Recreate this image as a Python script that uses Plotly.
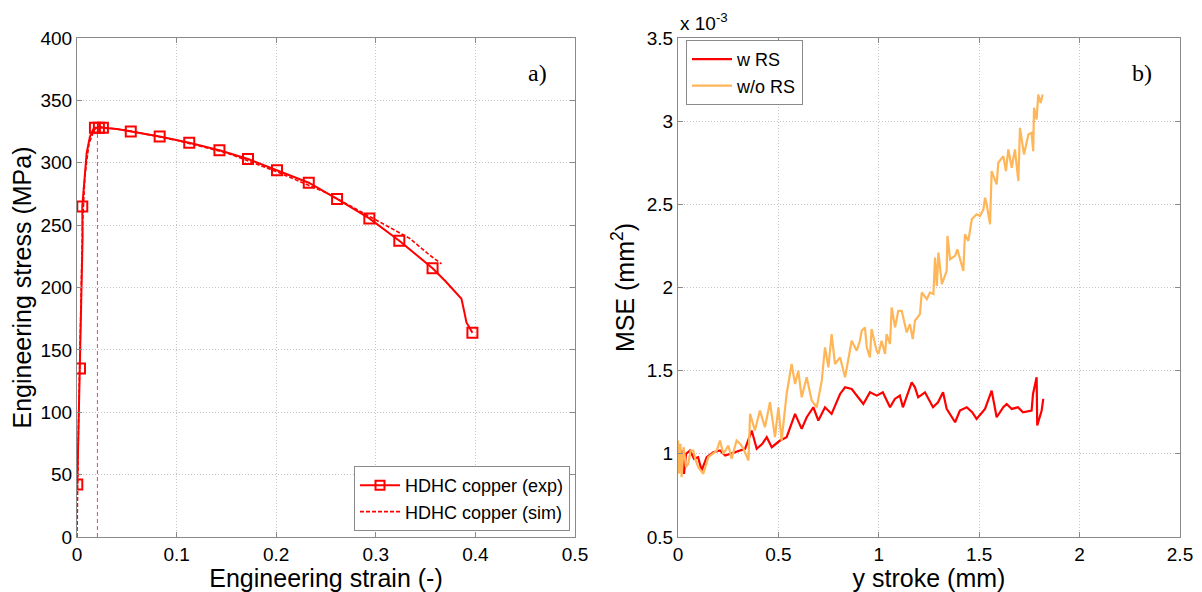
import plotly.graph_objects as go

# ---------------- data: left panel ----------------
exp_strain = [0.0003, 0.0008, 0.0013, 0.002, 0.003, 0.0037, 0.0042, 0.0047, 0.0056, 0.0053,
              0.0075, 0.0097, 0.013, 0.0164, 0.018, 0.022, 0.026, 0.04, 0.054, 0.083,
              0.1127, 0.143, 0.1717, 0.2008, 0.2327, 0.2611, 0.2935, 0.3236, 0.357, 0.37,
              0.378, 0.386, 0.389, 0.391, 0.394, 0.397]
exp_stress = [42, 60, 83, 110, 135, 163, 190, 217, 240, 265,
              289, 308, 321, 327, 328, 328, 328, 327, 325, 321,
              316, 310, 303, 294, 284, 271, 255.4, 237.5, 215.4, 205,
              198, 191, 180, 172, 168, 163.8]
mark_strain = [0.0003, 0.003, 0.0053, 0.018, 0.022, 0.026, 0.054, 0.083, 0.1127, 0.143,
               0.1717, 0.2008, 0.2327, 0.2611, 0.2935, 0.3236, 0.357, 0.397]
mark_stress = [42, 135, 265, 328, 328, 328, 325, 321, 316, 310,
               303, 294, 284, 271, 255.4, 237.5, 215.4, 163.8]
sim_strain = [0, 0.0005, 0.0015, 0.003, 0.004, 0.0055, 0.008, 0.012, 0.017, 0.021,
              0.05, 0.1, 0.15, 0.2, 0.25, 0.3, 0.334, 0.354, 0.366]
sim_stress = [0, 40, 90, 150, 200, 250, 290, 315, 326, 329,
              326, 318, 308, 293, 276, 254, 239.4, 226, 219]
vline_strain = [0.0205, 0.0205]
vline_stress = [0, 328]

# ---------------- data: right panel (MSE x 1e-3 mm^2) ----------------
wrs_x = [0.0, 0.01, 0.02, 0.03, 0.04, 0.06, 0.08, 0.1, 0.118, 0.143, 0.176, 0.209, 0.235,
         0.259, 0.292, 0.334, 0.367, 0.392, 0.42, 0.442, 0.467, 0.508, 0.541, 0.583, 0.616,
         0.641, 0.674, 0.699, 0.732, 0.765, 0.807, 0.832, 0.865, 0.898, 0.923, 0.956, 0.99,
         1.02, 1.056, 1.08, 1.105, 1.12, 1.164, 1.18, 1.196, 1.23, 1.27, 1.295, 1.32, 1.338,
         1.38, 1.404, 1.438, 1.465, 1.487, 1.529, 1.562, 1.587, 1.62, 1.637, 1.662, 1.693,
         1.718, 1.761, 1.768, 1.786, 1.789, 1.811, 1.819]
wrs_y = [1.0, 0.9, 1.02, 0.88, 1.0, 1.02, 0.97, 0.98, 0.9, 0.98, 1.01, 1.02, 0.99,
         1.0, 1.01, 1.03, 1.14, 1.03, 1.06, 1.10, 1.04, 1.08, 1.10, 1.24, 1.15,
         1.22, 1.28, 1.20, 1.28, 1.24, 1.36, 1.40, 1.39, 1.34, 1.30, 1.37, 1.35,
         1.37, 1.28, 1.33, 1.35, 1.28, 1.43, 1.40, 1.34, 1.37, 1.28, 1.31, 1.37, 1.27,
         1.19, 1.26, 1.28, 1.25, 1.21, 1.27, 1.38, 1.22, 1.28, 1.30, 1.27, 1.28,
         1.25, 1.26, 1.36, 1.46, 1.17, 1.26, 1.33]
wors_x = [0.0, 0.005, 0.012, 0.018, 0.028, 0.04, 0.051, 0.063, 0.076, 0.088, 0.101, 0.126,
          0.151, 0.175, 0.193, 0.209, 0.226, 0.251, 0.267, 0.292, 0.31, 0.326, 0.351, 0.359,
          0.383, 0.408, 0.433, 0.458, 0.483, 0.5, 0.516, 0.541, 0.566, 0.583, 0.599, 0.616,
          0.641, 0.666, 0.691, 0.716, 0.732, 0.749, 0.765, 0.782, 0.807, 0.832, 0.865, 0.89,
          0.906, 0.915, 0.931, 0.94, 0.956, 0.964, 0.989, 0.998, 1.014, 1.031, 1.039, 1.056,
          1.064, 1.081, 1.097, 1.114, 1.139, 1.155, 1.169, 1.18, 1.205, 1.214, 1.239, 1.255,
          1.272, 1.28, 1.289, 1.297, 1.314, 1.338, 1.342, 1.355, 1.38, 1.391, 1.421, 1.429,
          1.446, 1.463, 1.487, 1.504, 1.521, 1.529, 1.537, 1.554, 1.562, 1.587, 1.595, 1.62,
          1.633, 1.645, 1.662, 1.678, 1.695, 1.703, 1.723, 1.745, 1.761, 1.769, 1.773, 1.786,
          1.794, 1.806, 1.816]
wors_y = [1.08, 0.88, 1.06, 0.86, 1.04, 0.92, 0.94, 1.02, 1.02, 0.96, 0.92, 0.88,
          0.98, 1.0, 1.02, 1.08, 1.0, 1.05, 0.97, 1.08, 1.06, 1.03, 0.96, 1.24,
          1.14, 1.26, 1.16, 1.31, 1.10, 1.28, 1.08, 1.36, 1.54, 1.42, 1.50, 1.34,
          1.46, 1.32, 1.28, 1.44, 1.64, 1.52, 1.72, 1.54, 1.58, 1.46, 1.68, 1.62,
          1.68, 1.74, 1.76, 1.64, 1.58, 1.75, 1.62, 1.60, 1.68, 1.60, 1.72, 1.66,
          1.88, 1.76, 1.86, 1.86, 1.73, 1.78, 1.69, 1.80, 1.84, 1.97, 1.93, 1.97,
          1.96, 2.18, 2.01, 2.21, 2.02, 2.10, 2.31, 2.17, 2.19, 2.23, 2.10, 2.32,
          2.28, 2.41, 2.44, 2.43, 2.47, 2.54, 2.50, 2.38, 2.70, 2.62, 2.75, 2.79,
          2.70, 2.83, 2.72, 2.83, 2.64, 2.96, 2.80, 2.92, 2.93, 2.82, 3.08, 3.01,
          3.16, 3.11, 3.16]

left_xticks = [0, 0.1, 0.2, 0.3, 0.4, 0.5]
left_xticklabels = ["0", "0.1", "0.2", "0.3", "0.4", "0.5"]
left_yticks = [0, 50, 100, 150, 200, 250, 300, 350, 400]
right_xticks = [0, 0.5, 1, 1.5, 2, 2.5]
right_xticklabels = ["0", "0.5", "1", "1.5", "2", "2.5"]
right_yticks = [0.5, 1, 1.5, 2, 2.5, 3, 3.5]
right_yticklabels = ["0.5", "1", "1.5", "2", "2.5", "3", "3.5"]

RED = "#ff0000"
ORANGE = "rgb(255,182,88)"
FONT = "Liberation Sans"
FRAME = "#8a8a8a"

# page offset (default body margin) and figure size
OFF = 8
W, H = 1194, 584


def px_x(X):
    return (X - OFF) / W


def px_y(Y):
    return (H - (Y - OFF)) / H


fig = go.Figure()

# left panel
fig.add_trace(go.Scatter(x=vline_strain, y=vline_stress, mode="lines",
                         line=dict(color="rgba(255,0,0,0.75)", width=1, dash="4px,3px"),
                         showlegend=False, xaxis="x", yaxis="y", hoverinfo="skip"))
fig.add_trace(go.Scatter(x=sim_strain, y=sim_stress, mode="lines",
                         line=dict(color=RED, width=1.6, dash="4px,2px"),
                         showlegend=False, xaxis="x", yaxis="y"))
fig.add_trace(go.Scatter(x=exp_strain, y=exp_stress, mode="lines",
                         line=dict(color=RED, width=2),
                         showlegend=False, xaxis="x", yaxis="y"))
fig.add_trace(go.Scatter(x=mark_strain, y=mark_stress, mode="markers",
                         marker=dict(symbol="square-open", size=10, color=RED,
                                     line=dict(color=RED, width=2)),
                         showlegend=False, xaxis="x", yaxis="y"))
# legend entries
fig.add_trace(go.Scatter(x=[None], y=[None], mode="lines+markers", name="HDHC copper (exp)",
                         line=dict(color=RED, width=2),
                         marker=dict(symbol="square-open", size=9, color=RED,
                                     line=dict(color=RED, width=2)),
                         xaxis="x", yaxis="y", legend="legend"))
fig.add_trace(go.Scatter(x=[None], y=[None], mode="lines", name="HDHC copper (sim)",
                         line=dict(color=RED, width=1.6, dash="4px,2px"),
                         xaxis="x", yaxis="y", legend="legend"))

# right panel
fig.add_trace(go.Scatter(x=wrs_x, y=wrs_y, mode="lines", name="w RS",
                         line=dict(color=RED, width=2.2),
                         xaxis="x2", yaxis="y2", legend="legend2"))
fig.add_trace(go.Scatter(x=wors_x, y=wors_y, mode="lines", name="w/o RS",
                         line=dict(color=ORANGE, width=2.2),
                         xaxis="x2", yaxis="y2", legend="legend2"))

axis_common = dict(showline=True, linecolor=FRAME, linewidth=1, mirror="allticks",
                   ticks="inside", ticklen=5, tickcolor=FRAME, automargin=False,
                   showgrid=True, gridcolor="#c4c4c4", griddash="1px,2px", gridwidth=1,
                   zeroline=False, tickfont=dict(family=FONT, size=19, color="black"),
                   title_font=dict(family=FONT, size=25, color="black"))

ydom = [px_y(537), px_y(38)]

fig.update_layout(
    width=W, height=H,
    margin=dict(l=0, r=0, t=0, b=0),
    paper_bgcolor="white", plot_bgcolor="white",
    font=dict(family=FONT, color="black"),
    xaxis=dict(domain=[px_x(77), px_x(575)], range=[0, 0.5], tickvals=left_xticks,
               ticktext=left_xticklabels,
               title=dict(text="Engineering strain (-)", standoff=2), anchor="y", **axis_common),
    yaxis=dict(domain=ydom, range=[0, 400], tickvals=left_yticks,
               title=dict(text="Engineering stress (MPa)", standoff=7), anchor="x", **axis_common),
    xaxis2=dict(domain=[px_x(678), px_x(1180)], range=[0, 2.5], tickvals=right_xticks,
                ticktext=right_xticklabels,
                title=dict(text="y stroke (mm)", standoff=2), anchor="y2", **axis_common),
    yaxis2=dict(domain=ydom, range=[0.5, 3.5], tickvals=right_yticks,
                ticktext=right_yticklabels,
                title=dict(text="MSE (mm<sup>2</sup>)", standoff=5), anchor="x2", **axis_common),
    legend=dict(x=px_x(570), y=px_y(531), xanchor="right", yanchor="bottom",
                bgcolor="white", bordercolor=FRAME, borderwidth=1,
                font=dict(family=FONT, size=18, color="black"), itemwidth=40,
                tracegroupgap=0),
    legend2=dict(x=px_x(686), y=px_y(40), xanchor="left", yanchor="top",
                 bgcolor="white", bordercolor=FRAME, borderwidth=1,
                 font=dict(family=FONT, size=18, color="black"), itemwidth=40,
                 tracegroupgap=0),
    annotations=[
        dict(text="a)", x=0.925, y=0.93, xref="x domain", yref="y domain",
             showarrow=False, font=dict(family="Liberation Serif", size=24, color="black"),
             xanchor="center", yanchor="middle"),
        dict(text="b)", x=0.925, y=0.93, xref="x2 domain", yref="y2 domain",
             showarrow=False, font=dict(family="Liberation Serif", size=24, color="black"),
             xanchor="center", yanchor="middle"),
        dict(text="x 10<sup>-3</sup>", x=0.0, y=1.0, xref="x2 domain", yref="y2 domain",
             showarrow=False, font=dict(family=FONT, size=19, color="black"),
             xanchor="left", yanchor="bottom", yshift=2),
    ],
)

fig.write_html("out.html")
